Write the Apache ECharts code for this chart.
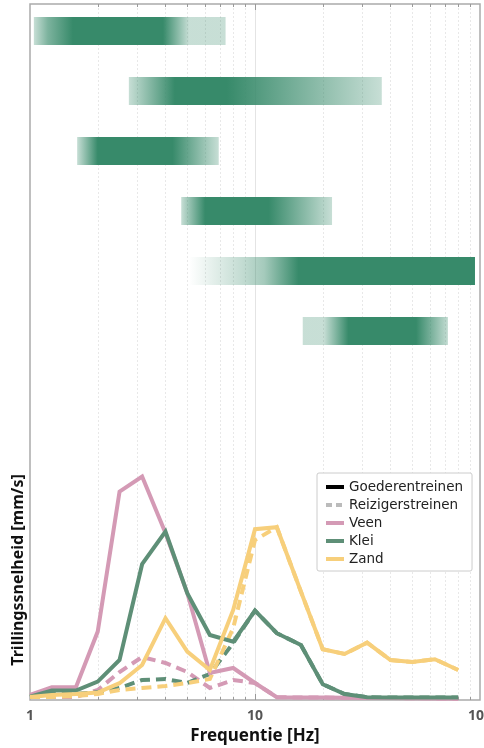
<!DOCTYPE html>
<html>
<head>
<meta charset="utf-8">
<script src="https://cdn.jsdelivr.net/npm/echarts@6/dist/echarts.min.js"></script>
<style>
  html, body { margin: 0; padding: 0; background: #fff; }
  #chart { width: 484px; height: 748px; }
</style>
</head>
<body>
<div id="chart"></div>
<script>
// One-third octave band centre frequencies [Hz]
const freqs = [1, 1.25, 1.6, 2, 2.5, 3.15, 4, 5, 6.3, 8, 10, 12.5, 16, 20, 25, 31.5, 40, 50, 63, 80];

// Vibration velocity per band [mm/s] - freight trains (solid)
const veenGoederen = [0.25, 0.64, 0.64, 3.42, 10.42, 11.17, 8.35, 5.35, 1.35, 1.6, 0.85, 0.14, 0.12, 0.12, 0.11, 0.1, 0.1, 0.09, 0.08, 0.06];
const kleiGoederen = [0.17, 0.47, 0.47, 0.92, 2.0, 6.79, 8.42, 5.34, 3.25, 2.92, 4.47, 3.34, 2.75, 0.79, 0.3, 0.14, 0.12, 0.12, 0.12, 0.12];
const zandGoederen = [0.15, 0.25, 0.3, 0.37, 0.84, 1.75, 4.09, 2.42, 1.5, 4.5, 8.54, 8.64, 5.42, 2.54, 2.3, 2.87, 2.0, 1.9, 2.04, 1.5];

// Vibration velocity per band [mm/s] - passenger trains (dashed)
const veenReizigers = [0.15, 0.15, 0.15, 0.5, 1.4, 2.15, 1.85, 1.4, 0.6, 1.0, 0.85, 0.14, 0.12, 0.12, 0.11, 0.1, 0.1, 0.09, 0.08, 0.06];
const kleiReizigers = [0.15, 0.3, 0.3, 0.4, 0.6, 1.0, 1.05, 0.85, 1.3, 2.85, 4.47, 3.34, 2.75, 0.79, 0.3, 0.14, 0.12, 0.12, 0.12, 0.12];
const zandReizigers = [0.15, 0.15, 0.2, 0.3, 0.5, 0.6, 0.7, 0.85, 1.05, 3.6, 8.0, 8.64, 5.42, 2.54, 2.3, 2.87, 2.0, 1.9, 2.04, 1.5];

// Frequency ranges (top bands): [frequency Hz, intensity 0..1] along each band
const bandStops = [
  [[1.04, 0.28], [1.2, 0.65], [1.55, 1], [3.9, 1], [5.1, 0.28], [7.4, 0.28]],
  [[2.75, 0.28], [4.4, 1], [7.5, 1], [36.6, 0.28]],
  [[1.62, 0.28], [2.0, 1], [4.3, 1], [6.9, 0.28]],
  [[4.7, 0.28], [6.0, 1], [11.5, 1], [22, 0.28]],
  [[5.1, 0], [8.8, 0.3], [11, 0.45], [15.6, 1], [95, 1]],
  [[16.3, 0.28], [20.2, 0.28], [26, 1], [52, 1], [72, 0.3]]
];

// Vertical grid lines on the log axis
const gridValues = [2, 3, 4, 5, 6, 7, 8, 9, 10, 20, 30, 40, 50, 60, 70, 80, 90];
const majorValues = [10];

const legendNames = ['Goederentreinen', 'Reizigerstreinen', 'Veen', 'Klei', 'Zand'];

const COLORS = { Veen: '#d49ab5', Klei: '#5e8f77', Zand: '#f7cf7b' };
const BAND_RGB = '55,138,106';
const DASH = [10, 6];
const NO_SYMBOL = { color: 'rgba(0,0,0,0)', borderWidth: 0, opacity: 0 };

const pairs = arr => freqs.map((f, i) => [f, arr[i]]);

const chart = echarts.init(document.getElementById('chart'), null, { renderer: 'canvas' });

function lineSeries(name, color, values, dashed) {
  return {
    name: name,
    type: 'line',
    xAxisIndex: 1,
    yAxisIndex: 1,
    data: pairs(values),
    symbol: 'none',
    silent: true,
    lineStyle: { color: color, width: 4, type: dashed ? DASH : 'solid', cap: 'butt', join: 'miter' },
    itemStyle: NO_SYMBOL,
    z: dashed ? 3 : 4
  };
}

const option = {
  animation: false,
  backgroundColor: '#fff',
  textStyle: { fontFamily: 'Noto Sans' },
  grid: [
    { left: 30, right: 4, top: 4, bottom: 48, outerBoundsMode: 'none', containLabel: false,
      show: true, borderColor: '#aaa', borderWidth: 1.5, backgroundColor: 'transparent' },
    { left: 30, right: 4, top: 440, bottom: 48, outerBoundsMode: 'none', containLabel: false }
  ],
  xAxis: [
    {
      type: 'log', logBase: 10, min: 1, max: 100, gridIndex: 0,
      axisLine: { show: false }, axisTick: { show: false },
      splitLine: { show: false },
      axisLabel: { show: true, color: '#555', fontWeight: 'bold', fontSize: 14, margin: 9, fontFamily: 'Noto Sans', hideOverlap: false },
      name: 'Frequentie [Hz]', nameLocation: 'middle', nameGap: 27,
      nameTextStyle: { color: '#111', fontWeight: 'bold', fontSize: 17, fontFamily: 'Noto Sans' }
    },
    {
      type: 'log', logBase: 10, min: 1, max: 100, gridIndex: 1, show: false
    }
  ],
  yAxis: [
    { type: 'value', gridIndex: 0, inverse: true, min: -0.45, max: 11.15, show: false },
    {
      type: 'value', gridIndex: 1, min: 0, max: 13,
      axisLine: { show: false }, axisTick: { show: false }, axisLabel: { show: false }, splitLine: { show: false },
      name: 'Trillingssnelheid [mm/s]', nameLocation: 'middle', nameGap: 4, nameRotate: 90,
      nameTextStyle: { color: '#111', fontWeight: 'bold', fontSize: 16, fontFamily: 'Noto Sans' }
    }
  ],
  legend: {
    data: legendNames,
    orient: 'vertical',
    left: 317, top: 473,
    itemWidth: 18, itemHeight: 10, itemGap: 4,
    padding: [7, 9, 5, 7],
    borderColor: '#ccc', borderWidth: 1, borderRadius: 2,
    backgroundColor: '#fff',
    selectedMode: false,
    itemStyle: { opacity: 0 },
    lineStyle: { width: 4 },
    textStyle: { color: '#222', fontSize: 13.5, lineHeight: 14, fontFamily: 'DejaVu Sans' }
  },
  series: [
    // grid lines and ticks
    {
      type: 'custom', xAxisIndex: 0, yAxisIndex: 0, silent: true, z: 0,
      data: gridValues.map(v => [v, 0]),
      renderItem: function (params, api) {
        const v = api.value(0);
        const x = Math.round(api.coord([v, 0])[0]) + 0.5;
        const cs = params.coordSys;
        const top = cs.y, bottom = cs.y + cs.height;
        const major = majorValues.indexOf(v) >= 0;
        const tl = major ? 6 : 3;
        return {
          type: 'group',
          children: [
            { type: 'line', shape: { x1: x, y1: top, x2: x, y2: bottom },
              style: { stroke: major ? '#e4e4e4' : '#e8e8e8', lineWidth: 1, lineDash: major ? null : [2, 2] } },
            { type: 'line', shape: { x1: x, y1: top, x2: x, y2: top + tl }, style: { stroke: '#999', lineWidth: 1 } },
            { type: 'line', shape: { x1: x, y1: bottom, x2: x, y2: bottom - tl }, style: { stroke: '#999', lineWidth: 1 } }
          ]
        };
      }
    },
    // frequency range bands
    {
      type: 'custom', xAxisIndex: 0, yAxisIndex: 0, silent: true, z: 2,
      data: bandStops.map((s, i) => [s[0][0], i]),
      encode: { x: 0, y: 1 },
      renderItem: function (params, api) {
        const row = api.value(1);
        const stops = bandStops[row];
        const p0 = api.coord([stops[0][0], row]);
        const p1 = api.coord([stops[stops.length - 1][0], row]);
        const w = p1[0] - p0[0];
        const h = 28;
        const colorStops = stops.map(([f, a]) => ({
          offset: Math.min(1, Math.max(0, (api.coord([f, row])[0] - p0[0]) / w)),
          color: 'rgba(' + BAND_RGB + ',' + a + ')'
        }));
        return {
          type: 'rect',
          shape: { x: p0[0], y: p0[1] - h / 2, width: w, height: h },
          style: { fill: new echarts.graphic.LinearGradient(0, 0, 1, 0, colorStops) }
        };
      }
    },
    // legend-only entries for train type
    {
      name: 'Goederentreinen', type: 'line', xAxisIndex: 1, yAxisIndex: 1, data: [], symbol: 'none',
      lineStyle: { color: '#000', width: 4 }, itemStyle: NO_SYMBOL
    },
    {
      name: 'Reizigerstreinen', type: 'line', xAxisIndex: 1, yAxisIndex: 1, data: [], symbol: 'none',
      lineStyle: { color: '#bbb', width: 4, type: [6, 4] }, itemStyle: NO_SYMBOL
    },
    lineSeries('Veen reizigers', COLORS.Veen, veenReizigers, true),
    lineSeries('Klei reizigers', COLORS.Klei, kleiReizigers, true),
    lineSeries('Zand reizigers', COLORS.Zand, zandReizigers, true),
    lineSeries('Veen', COLORS.Veen, veenGoederen, false),
    lineSeries('Klei', COLORS.Klei, kleiGoederen, false),
    lineSeries('Zand', COLORS.Zand, zandGoederen, false)
  ]
};

chart.setOption(option);
</script>
</body>
</html>
